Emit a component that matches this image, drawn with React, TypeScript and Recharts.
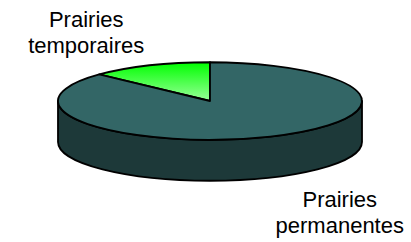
import React from 'react';
import { PieChart, Pie } from 'recharts';

// parts of the prairie surface (%)
const categories = ['Prairies temporaires', 'Prairies permanentes'];
const shares = [13, 87];
const topColors = ['url(#greenTop)', '#336666'];
const sideColors = ['#00b000', '#1d3939'];

const data = categories.map((name, i) => ({ name, value: shares[i] }));

const TILT = 0.255; // vertical squash of the disc
const DEPTH = 41;   // thickness of the disc

const rad = (a: number) => (a * Math.PI) / 180;

// draw each slice as a flattened 3D wedge from the geometry recharts computed
function Slice3D(props: any) {
  const { cx, cy, outerRadius: r, startAngle, endAngle, midAngle, index, name } = props;
  const ry = r * TILT;
  const pt = (a: number, dy = 0) => [cx + r * Math.cos(rad(a)), cy - ry * Math.sin(rad(a)) + dy];

  // front wall: the part of the arc facing the viewer
  const walls: string[] = [];
  for (const base of [-360, 0, 360]) {
    const a1 = Math.max(startAngle, 180 + base);
    const a2 = Math.min(endAngle, 360 + base);
    if (a2 > a1) {
      const [x1, y1] = pt(a1);
      const [x2, y2] = pt(a2);
      const large = a2 - a1 > 180 ? 1 : 0;
      walls.push(
        `M${x1},${y1} A${r},${ry} 0 ${large} 0 ${x2},${y2} L${x2},${y2 + DEPTH} A${r},${ry} 0 ${large} 1 ${x1},${y1 + DEPTH} Z`
      );
    }
  }

  const [sx, sy] = pt(startAngle);
  const [ex, ey] = pt(endAngle);
  const large = endAngle - startAngle > 180 ? 1 : 0;
  const top = `M${cx},${cy} L${sx},${sy} A${r},${ry} 0 ${large} 0 ${ex},${ey} Z`;

  // label placed outside the slice, along its middle angle
  const s = Math.sin(rad(midAngle));
  const lx = cx + 3 + r * 2.1 * Math.cos(rad(midAngle));
  const ly = cy - r * 0.53 * s + (s < 0 ? DEPTH * 0.78 : 0);
  const words = String(name).split(' ');

  return (
    <g>
      <defs>
        <linearGradient id="greenTop" x1="0" y1="0" x2="0" y2="1">
          <stop offset="0%" stopColor="#00ff00" />
          <stop offset="100%" stopColor="#99ff99" />
        </linearGradient>
      </defs>
      {walls.map((d, i) => (
        <path key={i} d={d} fill={sideColors[index]} stroke="#000" strokeWidth={1.8} strokeLinejoin="round" />
      ))}
      <path d={top} fill={topColors[index]} stroke="#000" strokeWidth={1.8} strokeLinejoin="round" />
      <text
        x={lx}
        y={ly}
        textAnchor="middle"
        fontFamily="'Liberation Sans', Arial, sans-serif"
        fontSize={22}
        fill="#000"
      >
        <tspan x={lx} dy={0}>{words[0]}</tspan>
        <tspan x={lx} dy={26}>{words[1]}</tspan>
      </text>
    </g>
  );
}

export default function App() {
  return (
    <div style={{ position: 'absolute', left: 0, top: 0, background: '#fff' }}>
      <PieChart width={411} height={242} margin={{ top: 0, right: 0, bottom: 0, left: 0 }}>
        <Pie
          data={data}
          dataKey="value"
          nameKey="name"
          cx={210}
          cy={101}
          outerRadius={152}
          startAngle={90}
          endAngle={450}
          fill="transparent"
          stroke="none"
          label={Slice3D}
          labelLine={false}
          isAnimationActive={false}
        />
      </PieChart>
    </div>
  );
}
